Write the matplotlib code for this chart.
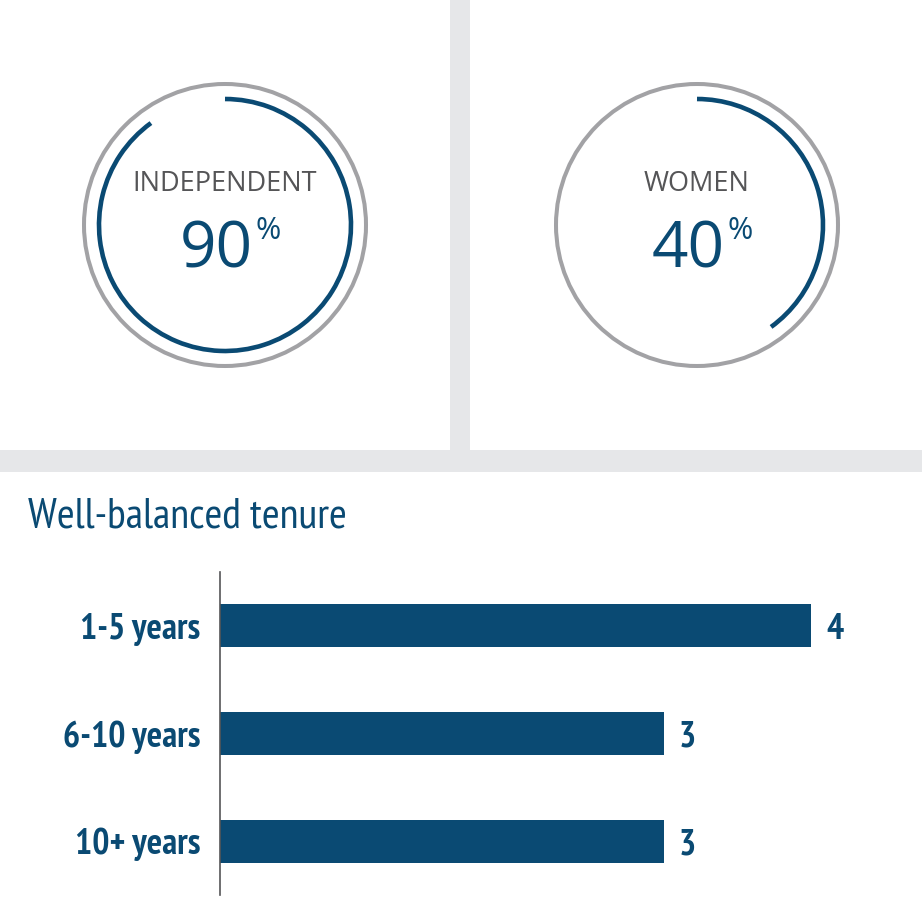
import matplotlib.pyplot as plt
from matplotlib.patches import Circle, Arc, Rectangle

# data
donut_labels = ['INDEPENDENT', 'WOMEN']
donut_pcts = [90, 40]
tenure_cats = ['1-5 years', '6-10 years', '10+ years']
tenure_vals = [4, 3, 3]

BLUE = '#0a4a73'
RING = '#a2a2a5'
BAND = '#e6e7e9'
DARK = '#555557'
W, H = 922, 923

cond = ['PT Sans Narrow', 'DejaVu Sans']
plain = ['Open Sans', 'DejaVu Sans']

fig = plt.figure(figsize=(W / 100, H / 100), dpi=100)
bg = fig.add_axes([0, 0, 1, 1])
bg.set_xlim(0, W)
bg.set_ylim(0, H)
bg.axis('off')

# grey dividers
bg.add_patch(Rectangle((450, H - 450), 20, 450, color=BAND, lw=0))
bg.add_patch(Rectangle((0, H - 472), W, 22, color=BAND, lw=0))

centers = [225, 697]
cy = H - 225
for cx, lab, pct in zip(centers, donut_labels, donut_pcts):
    bg.add_patch(Circle((cx, cy), 141, fill=False, ec=RING, lw=2.9))
    bg.add_patch(Arc((cx, cy), 252, 252, theta1=90 - pct * 3.6, theta2=90,
                     ec=BLUE, lw=3.3))
    bg.text(cx, H - 184, lab, ha='center', va='center', fontsize=19.5,
            color=DARK, family=plain)
    bg.text(cx + 28, H - 268, str(pct), ha='right', va='baseline',
            fontsize=46, color=BLUE, family=plain)
    bg.text(cx + 30, H - 216, '%', ha='left', va='top', fontsize=22,
            color=BLUE, family=plain)

bg.text(28, H - 527, 'Well-balanced tenure', ha='left', va='baseline',
        fontsize=31, color=BLUE, family=cond)

# tenure bars
ax = fig.add_axes([220 / W, (H - 895) / H, (915 - 220) / W, (895 - 572) / H])
ypos = list(range(len(tenure_cats)))
bars = ax.barh(ypos, tenure_vals, height=0.4, color=BLUE)
ax.set_ylim(len(tenure_cats) - 0.5, -0.5)
ax.set_xlim(0, 4.7)
ax.set_yticks(ypos)
ax.set_yticklabels(tenure_cats, fontsize=26, fontweight='bold', color=BLUE,
                   family=cond)
ax.tick_params(axis='y', length=0, pad=14)
ax.set_xticks([])
for s in ['top', 'right', 'bottom']:
    ax.spines[s].set_visible(False)
ax.spines['left'].set_color(DARK)
ax.spines['left'].set_linewidth(1.2)
ax.patch.set_alpha(0)
vlabels = ax.bar_label(bars, labels=[str(v) for v in tenure_vals], padding=11,
                       fontsize=26, fontweight='bold', color=BLUE, family=cond)
for t in vlabels:
    t.set_va('center_baseline')

fig.savefig('out.png', dpi=100)
